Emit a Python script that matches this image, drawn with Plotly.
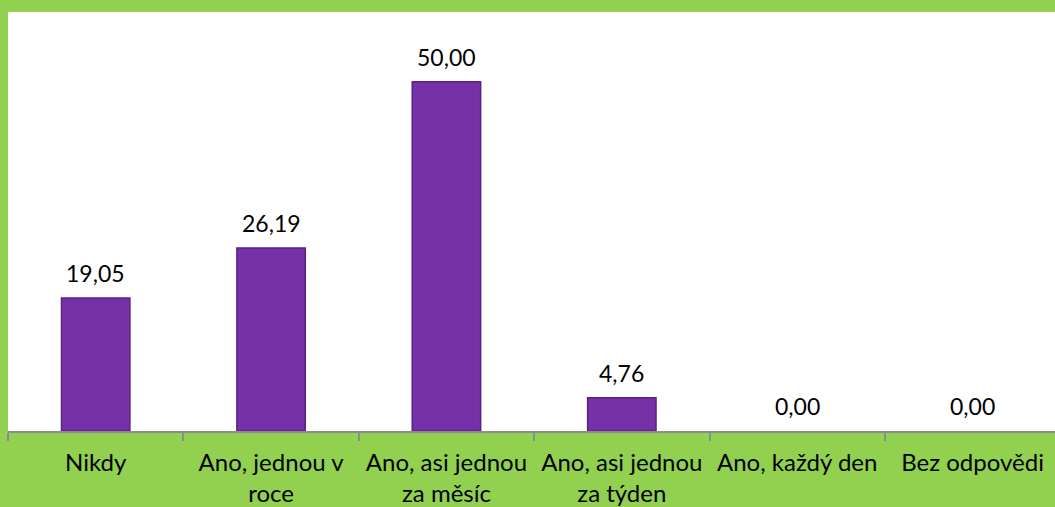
import plotly.graph_objects as go

categories = ["Nikdy", "Ano, jednou v<br>roce", "Ano, asi jednou<br>za měsíc",
              "Ano, asi jednou<br>za týden", "Ano, každý den", "Bez odpovědi"]
values = [19.05, 26.19, 50.00, 4.76, 0.00, 0.00]
labels = ["19,05", "26,19", "50,00", "4,76", "0,00", "0,00"]

FONT = "Lato"
GREEN = "#92D050"

fig = go.Figure()
fig.add_trace(go.Bar(
    x=categories, y=values, width=0.39,
    marker=dict(color="#7532A8",
                line=dict(color="#5C2185", width=[1.5 if v > 0 else 0 for v in values])),
    hoverinfo="skip",
))

for c, v, t in zip(categories, values, labels):
    fig.add_annotation(x=c, y=v, text=t, showarrow=False, yshift=25,
                       yanchor="middle", font=dict(family=FONT, size=23, color="#000000"))

fig.update_layout(
    width=1055, height=507,
    margin=dict(l=8, r=0, t=12, b=76),
    paper_bgcolor=GREEN, plot_bgcolor="#FFFFFF",
    showlegend=False,
    xaxis=dict(
        type="category", range=[-0.5, 5.47], automargin=False,
        showline=True, linecolor="#8C8C8C", linewidth=2,
        ticks="outside", tickson="boundaries", ticklen=8, tickcolor="#8C8C8C", tickwidth=2,
        tickfont=dict(family=FONT, size=24, color="#000000"),
        ticklabelstandoff=9,
        showgrid=False, zeroline=False, fixedrange=True,
    ),
    yaxis=dict(range=[0, 60], visible=False, showgrid=False, zeroline=False, fixedrange=True),
)

fig.write_html("out.html", config={"displayModeBar": False},
               post_script="document.body.style.margin='0';document.body.style.overflow='hidden';")
